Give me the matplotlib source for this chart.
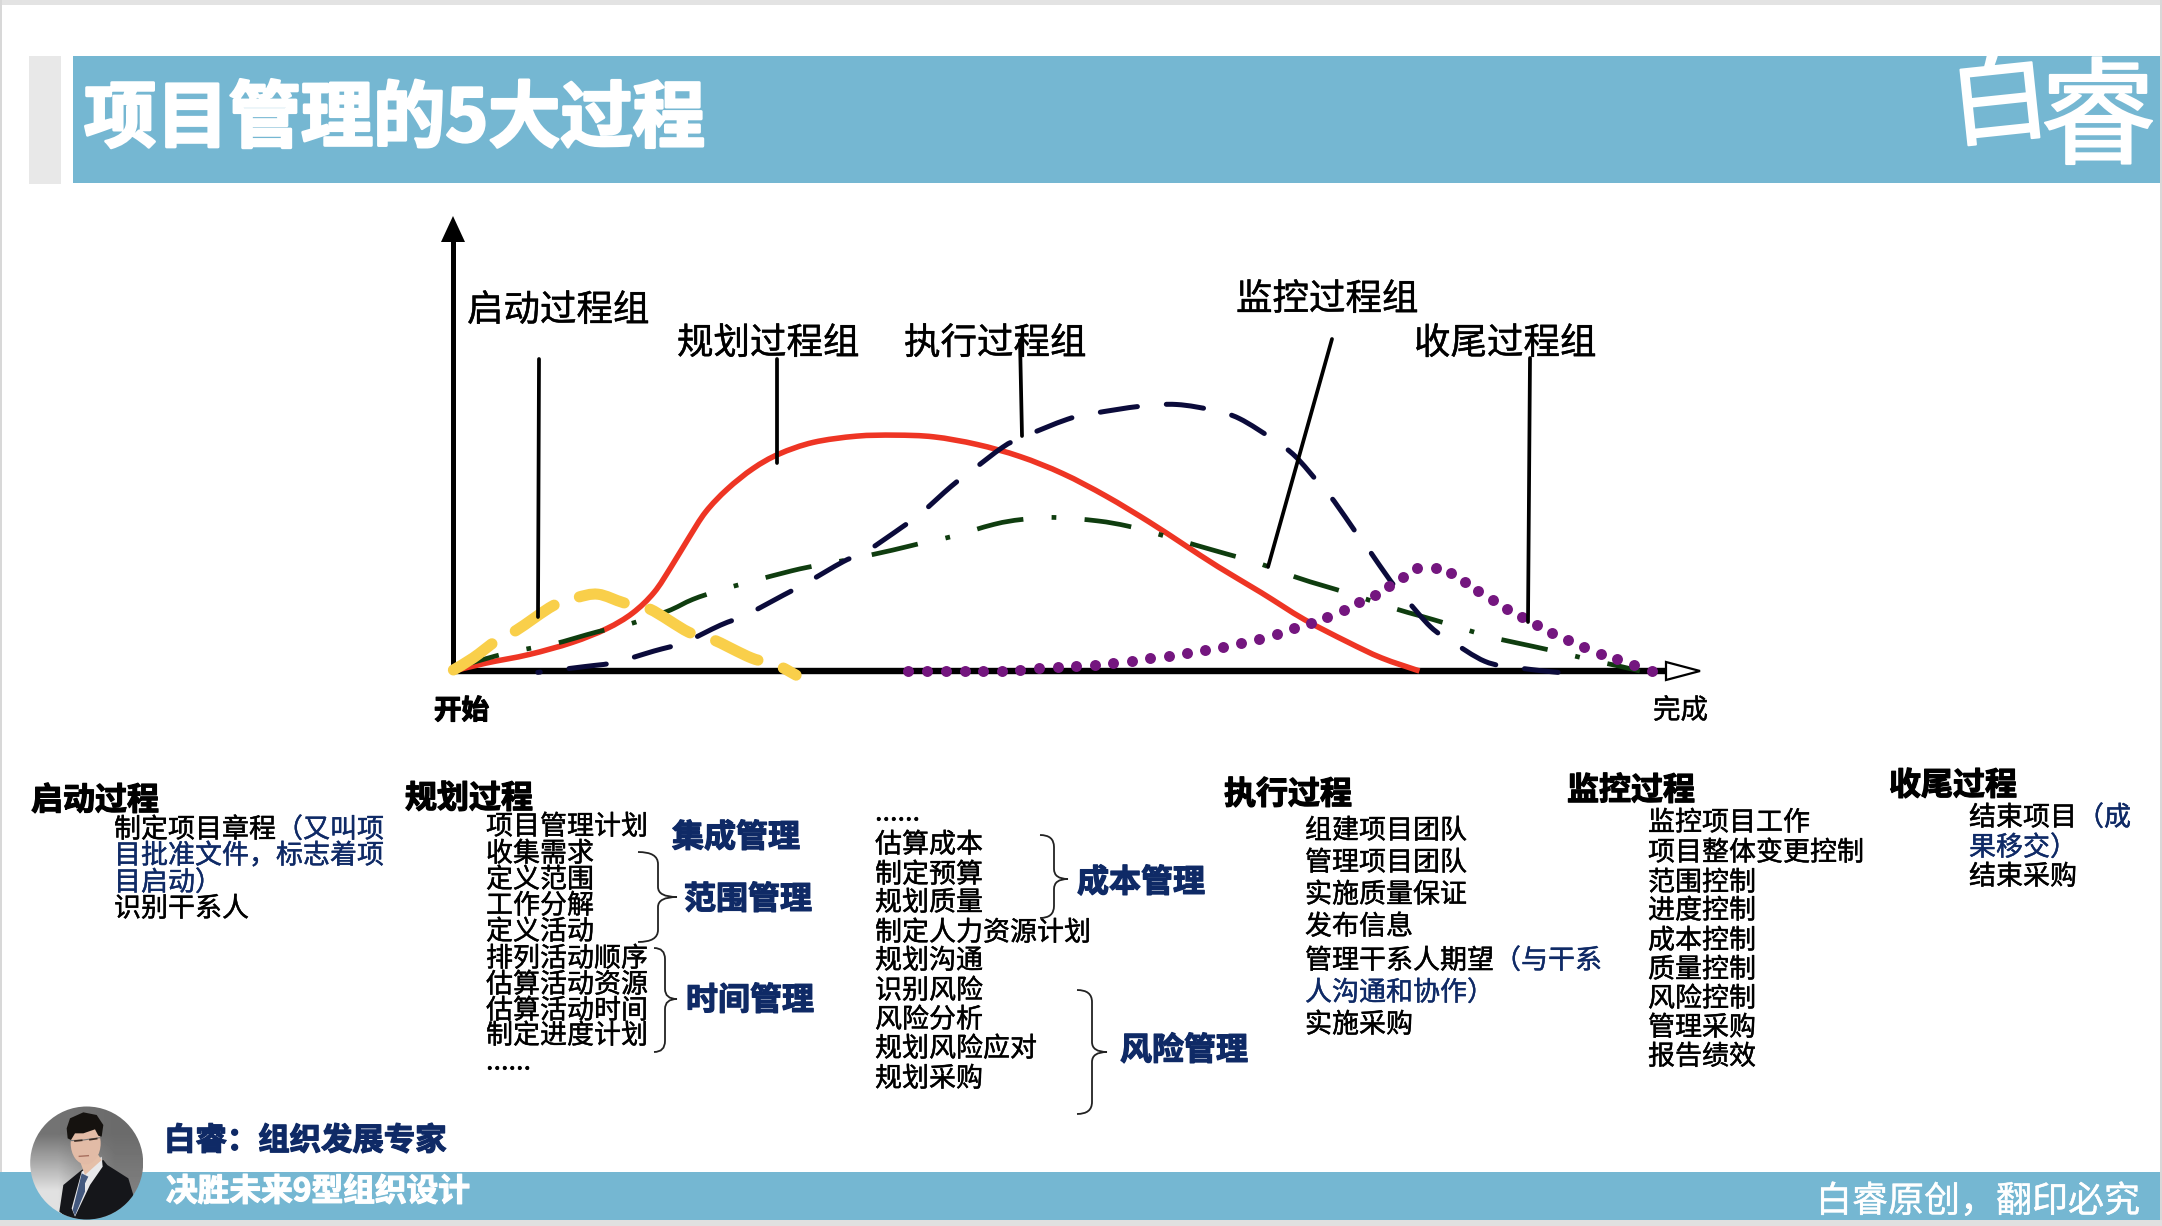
import matplotlib
matplotlib.use("Agg")
import matplotlib.patheffects as pe
import matplotlib.pyplot as plt
from matplotlib.patches import Circle, Ellipse, PathPatch, Polygon, Rectangle
from matplotlib.path import Path

plt.rcParams["font.family"] = ["Noto Sans CJK SC", "DejaVu Sans"]

BANDA = "#75B7D2"
AZUL = "#0F2A66"

# curvas: avance del proyecto (x) contra nivel de actividad (y)
rojo_x = [0, 38, 88, 138, 178, 208, 233, 253, 273, 293, 318, 348, 378, 418, 468, 513, 558, 608,
          658, 708, 758, 808, 848, 888, 938, 988, 1038, 1078, 1122]
rojo_y = [0, 23, 48, 83, 123, 168, 228, 303, 385, 462, 528, 588, 630, 664, 682, 685, 680, 658,
          623, 573, 508, 433, 368, 303, 228, 150, 85, 38, 0]
azul_x = [98, 153, 188, 233, 268, 310, 340, 383, 410, 453, 481, 520, 543, 578, 600, 638, 660, 713,
          743, 798, 840, 883, 913, 953, 978, 1006, 1023, 1048, 1063, 1088, 1105, 1135, 1158, 1198,
          1233, 1283]
azul_y = [-4, 13, 25, 58, 83, 133, 163, 220, 256, 318, 350, 416, 458, 536, 578, 650, 678, 731,
          748, 769, 774, 757, 733, 671, 623, 543, 493, 403, 353, 263, 213, 128, 88, 28,
          10, -4]
verde_x = [0, 48, 83, 116, 166, 200, 248, 278, 310, 343, 393, 425, 458, 510, 543, 578, 628, 660,
           698, 748, 783, 818, 863, 898, 933, 978, 1010, 1043, 1091, 1123, 1156, 1203, 1238, 1273,
           1323, 1356, 1378]
verde_y = [8, 43, 63, 78, 113, 133, 173, 208, 235, 258, 291, 308, 323, 351, 371, 390, 426, 440,
           446, 436, 421, 398, 365, 340, 315, 273, 248, 223, 183, 160, 136, 100, 80, 61,
           31, 13, 0]
amarillo_x = [0, 23, 50, 73, 116, 143, 168, 198, 228, 273, 300, 346, 375, 398]
amarillo_y = [3, 38, 88, 118, 190, 213, 223, 198, 180, 113, 93, 38, 18, -12]
morado_x = [528, 550, 572, 594, 615, 637, 658, 680, 702, 723, 745, 766, 788, 809, 831, 852, 873,
            894, 915, 936, 956, 976, 996, 1015, 1034, 1052, 1070, 1087, 1103, 1119, 1141, 1159,
            1175, 1190, 1207, 1224, 1241, 1258, 1276, 1295, 1313, 1333, 1352, 1371, 1392]
morado_y = [1, 1, 0, 0, 0, 1, 4, 8, 11, 14, 18, 23, 30, 37, 43, 52, 61,
            71, 81, 94, 108, 124, 140, 158, 178, 200, 222, 246, 273, 300, 300, 286,
            258, 231, 206, 180, 156, 133, 111, 89, 70, 50, 35, 16, 1]

# textos de la diapositiva
grupos = ["启动过程组", "规划过程组", "执行过程组", "监控过程组", "收尾过程组"]
grupos_x = [467, 677, 904, 1236, 1414]
grupos_y = [308, 341, 341, 297, 341]
guias = [[(539, 359), (538, 617)], [(777, 359), (777, 463)], [(1020, 340), (1022, 436)],
         [(1332, 339), (1268, 567)], [(1530, 358), (1528, 622)]]

cabeceras = ["启动过程", "规划过程", "执行过程", "监控过程", "收尾过程"]
cabeceras_x = [31, 405, 1224, 1567, 1889]
cabeceras_y = [798, 796, 792, 788, 783]

col_inicio = [[("制定项目章程", "k"), ("（又叫项", AZUL)], [("目批准文件，标志着项", AZUL)],
              [("目启动）", AZUL)], [("识别干系人", "k")]]
col_inicio_y = [827, 853, 880, 906]
col_plan1 = ["项目管理计划", "收集需求", "定义范围", "工作分解", "定义活动", "排列活动顺序",
             "估算活动资源", "估算活动时间", "制定进度计划"]
col_plan1_y = [824, 851, 877, 903, 929, 956, 982, 1008, 1033]
col_plan2 = ["估算成本", "制定预算", "规划质量", "制定人力资源计划", "规划沟通", "识别风险",
             "风险分析", "规划风险应对", "规划采购"]
col_plan2_y = [842, 872, 900, 930, 958, 988, 1017, 1046, 1076]
col_ejec = [[("组建项目团队", "k")], [("管理项目团队", "k")], [("实施质量保证", "k")], [("发布信息", "k")],
            [("管理干系人期望", "k"), ("（与干系", AZUL)], [("人沟通和协作）", AZUL)], [("实施采购", "k")]]
col_ejec_y = [828, 860, 892, 924, 958, 990, 1022]
col_control = ["监控项目工作", "项目整体变更控制", "范围控制", "进度控制", "成本控制", "质量控制",
               "风险控制", "管理采购", "报告绩效"]
col_control_y = [820, 850, 880, 908, 938, 967, 996, 1025, 1054]
col_cierre = [[("结束项目", "k"), ("（成", AZUL)], [("果移交）", AZUL)], [("结束采购", "k")]]
col_cierre_y = [815, 845, 874]

areas = ["集成管理", "范围管理", "时间管理", "成本管理", "风险管理"]
areas_x = [672, 684, 686, 1077, 1120]
areas_y = [835, 897, 998, 880, 1048]


def texto(ax, x, y, s, px=27, color="k", weight="normal", grosor=None, **kw):
    # px = ancho de un carácter CJK en la imagen final
    if grosor is None:
        grosor = 0.9 if weight == "bold" else 0.3
    t = ax.text(x, y + 3, s, fontsize=px * 0.72, color=color, fontweight=weight,
                va="center", ha=kw.pop("ha", "left"), **kw)
    t.set_path_effects([pe.withStroke(linewidth=grosor, foreground=color)])
    return t


def tramos(ax, x, y, partes, px=27):
    for s, color in partes:
        texto(ax, x, y, s, px, color)
        x += len(s) * px


def llave(ax, x0, xm, xt, y0, yt, y1):
    r = min(xm - x0, 12)
    verts = [(x0, y0), (xm, y0), (xm, y0 + r), (xm, yt - 10), (xm, yt), (xt, yt),
             (xm, yt), (xm, yt + 10), (xm, y1 - r), (xm, y1), (x0, y1)]
    codes = [Path.MOVETO, Path.CURVE3, Path.CURVE3, Path.LINETO, Path.CURVE3, Path.CURVE3,
             Path.CURVE3, Path.CURVE3, Path.LINETO, Path.CURVE3, Path.CURVE3]
    ax.add_patch(PathPatch(Path(verts, codes), fill=False, ec="#222222", lw=1.3, zorder=3))


def suave(ax, xs, ys, **kw):
    # traza la curva pasando por los puntos leídos, con tramos de Bézier
    pts = list(zip(xs, ys))
    verts = [pts[0]]
    codes = [Path.MOVETO]
    for i in range(len(pts) - 1):
        p0 = pts[max(i - 1, 0)]
        p1 = pts[i]
        p2 = pts[i + 1]
        p3 = pts[min(i + 2, len(pts) - 1)]
        c1 = (p1[0] + (p2[0] - p0[0]) / 6, p1[1] + (p2[1] - p0[1]) / 6)
        c2 = (p2[0] - (p3[0] - p1[0]) / 6, p2[1] - (p3[1] - p1[1]) / 6)
        verts += [c1, c2, p2]
        codes += [Path.CURVE4] * 3
    ax.add_patch(PathPatch(Path(verts, codes), fill=False, clip_on=False, **kw))


def retrato(ax):
    cx, cy, r = 86.7, 1163, 56.5
    circulo = Circle((cx, cy), r, transform=ax.transData, fc="none", ec="none")
    ax.add_patch(circulo)
    fondo = ax.imshow([[0.45, 0.42], [0.88, 0.5]], cmap="gray", vmin=0, vmax=1, aspect="auto",
                      interpolation="bilinear", extent=(cx - r, cx + r, cy + r, cy - r), zorder=4)
    fondo.set_clip_path(circulo)

    def p(puntos):
        return [(20 + a / 3, 1095 + b / 3) for a, b in puntos]

    piezas = [
        ("#15161A", [(118, 350), (130, 270), (185, 225), (250, 195), (262, 210), (325, 250),
                     (340, 300), (335, 345), (250, 380), (150, 375)]),
        ("#E8E8EA", [(155, 340), (185, 230), (245, 185), (248, 215), (210, 270), (165, 365)]),
        ("#E5BFA8", [(175, 185), (235, 180), (245, 195), (195, 240)]),
        ("#44597F", [(185, 235), (205, 245), (195, 265), (195, 290), (165, 362), (158, 345), (178, 265)]),
    ]
    for color, puntos in piezas:
        parte = Polygon(p(puntos), closed=True, fc=color, ec="none", zorder=5)
        ax.add_patch(parte)
        parte.set_clip_path(circulo)
    ax.add_patch(Ellipse((20 + 197 / 3, 1095 + 145 / 3), 30, 42, fc="#E2BBA6", ec="none", zorder=6))
    ax.add_patch(Polygon(p([(140, 100), (150, 70), (190, 52), (230, 60), (250, 90), (245, 125),
                            (235, 122), (225, 103), (190, 115), (165, 115), (153, 135), (143, 130)]),
                         closed=True, fc="#15120F", ec="none", zorder=7))
    ax.plot(*zip(*p([(150, 137), (190, 135), (240, 128)])), color="#777777", lw=0.8, zorder=7)
    ax.plot(*zip(*p([(165, 138), (185, 136)])), color="#3A2A22", lw=1.2, zorder=7)
    ax.plot(*zip(*p([(210, 134), (230, 131)])), color="#3A2A22", lw=1.2, zorder=7)
    ax.plot(*zip(*p([(178, 184), (205, 182)])), color="#A8705F", lw=1, zorder=7)


fig = plt.figure(figsize=(21.62, 12.26), dpi=100, facecolor="white")

# capa de la diapositiva, en píxeles
lienzo = fig.add_axes([0, 0, 1, 1])
lienzo.set_xlim(0, 2162)
lienzo.set_ylim(1226, 0)
lienzo.axis("off")

for x, y, w, h, color in [(0, 0, 2162, 5, "#E3E3E3"), (0, 0, 1.5, 1226, "#D8D8D8"),
                          (2160, 0, 2, 1226, "#D8D8D8"), (29, 56, 32, 128, "#E8E8E8"),
                          (73, 56, 2087, 127, BANDA), (0, 1172, 2160, 48, BANDA),
                          (0, 1220, 2162, 6, "#E0E0E0")]:
    lienzo.add_patch(Rectangle((x, y), w, h, fc=color, ec="none", zorder=1))

texto(lienzo, 84, 117, "项目管理的5大过程", 72.3, "white", "bold", grosor=2, zorder=2)
texto(lienzo, 2000, 102, "白", 100, "white", "normal", grosor=1.5, ha="center", rotation=6, zorder=2)
texto(lienzo, 2098, 119, "睿", 116, "white", "normal", grosor=1.5, ha="center", zorder=2)

# ejes de la gráfica
lienzo.plot([453, 453], [672, 235], color="k", lw=3.6, solid_capstyle="butt", zorder=2)
lienzo.add_patch(Polygon([(453, 216), (441, 242), (465, 242)], closed=True, fc="k", ec="none", zorder=2))
lienzo.plot([451, 1668], [671, 671], color="k", lw=4.6, solid_capstyle="butt", zorder=2)
lienzo.add_patch(Polygon([(1666, 662), (1700, 671), (1666, 680)], closed=True, fc="white", ec="k", lw=1.6, zorder=2))

# curvas sobre su propia escala
curvas = fig.add_axes([453.4 / 2162, (1226 - 671) / 1226, (1665.7 - 453.4) / 2162, 454.5 / 1226])
curvas.set_xlim(0, 1408)
curvas.set_ylim(0, 1320)
curvas.axis("off")
curvas.patch.set_alpha(0)

suave(curvas, rojo_x, rojo_y, ec="#EE3524", lw=4, zorder=3)
suave(curvas, verde_x, verde_y, ec="#0F3D0F", lw=3.4, zorder=4,
      linestyle=(0, (10, 6, 1, 6)), capstyle="butt")
suave(curvas, azul_x, azul_y, ec="#0B0B3B", lw=3.6, zorder=5,
      linestyle=(7, (7.5, 5.8)), capstyle="round")
suave(curvas, amarillo_x, amarillo_y, ec="#F9CF4A", lw=8, zorder=6,
      linestyle=(0, (4.2, 2.4)), capstyle="round")
curvas.scatter(morado_x, morado_y, s=62, color="#74167F", linewidths=0, clip_on=False, zorder=7)

# guías y rótulos de cada grupo
for s, x, y, guia in zip(grupos, grupos_x, grupos_y, guias):
    texto(lienzo, x, y, s, 36.5, zorder=8)
    fig.add_artist(plt.Line2D([guia[0][0] / 2162, guia[1][0] / 2162],
                              [1 - guia[0][1] / 1226, 1 - guia[1][1] / 1226],
                              color="k", lw=2.7, solid_capstyle="round", zorder=9))
texto(lienzo, 434, 708, "开始", 27.5, weight="bold")
texto(lienzo, 1653, 708, "完成", 27.5)

# columnas inferiores
for s, x, y in zip(cabeceras, cabeceras_x, cabeceras_y):
    texto(lienzo, x, y, s, 32, weight="bold")
for partes, y in zip(col_inicio, col_inicio_y):
    tramos(lienzo, 114, y, partes)
for s, y in zip(col_plan1, col_plan1_y):
    texto(lienzo, 486, y, s)
texto(lienzo, 486, 1059, "......", 27)
for s, y in zip(col_plan2, col_plan2_y):
    texto(lienzo, 875, y, s)
texto(lienzo, 875, 810, "......", 27)
for partes, y in zip(col_ejec, col_ejec_y):
    tramos(lienzo, 1305, y, partes)
for s, y in zip(col_control, col_control_y):
    texto(lienzo, 1648, y, s)
for partes, y in zip(col_cierre, col_cierre_y):
    tramos(lienzo, 1969, y, partes)

for s, x, y in zip(areas, areas_x, areas_y):
    texto(lienzo, x, y, s, 32, AZUL, "bold")
llave(lienzo, 638, 658, 677, 852, 897, 942)
llave(lienzo, 654, 665, 677, 948, 999, 1052)
llave(lienzo, 1040, 1054, 1068, 835, 879, 918)
llave(lienzo, 1077, 1092, 1107, 990, 1052, 1114)

# pie
retrato(lienzo)
texto(lienzo, 164, 1138, "白睿：组织发展专家", 31.4, AZUL, "bold", zorder=8)
texto(lienzo, 166, 1189, "决胜未来9型组织设计", 31.7, "white", "bold", zorder=8)
texto(lienzo, 1816, 1199, "白睿原创，翻印必究", 36, "white", zorder=8)

lienzo.set_xlim(0, 2162)
lienzo.set_ylim(1226, 0)

fig.savefig("out.png", dpi=100)
plt.close(fig)
